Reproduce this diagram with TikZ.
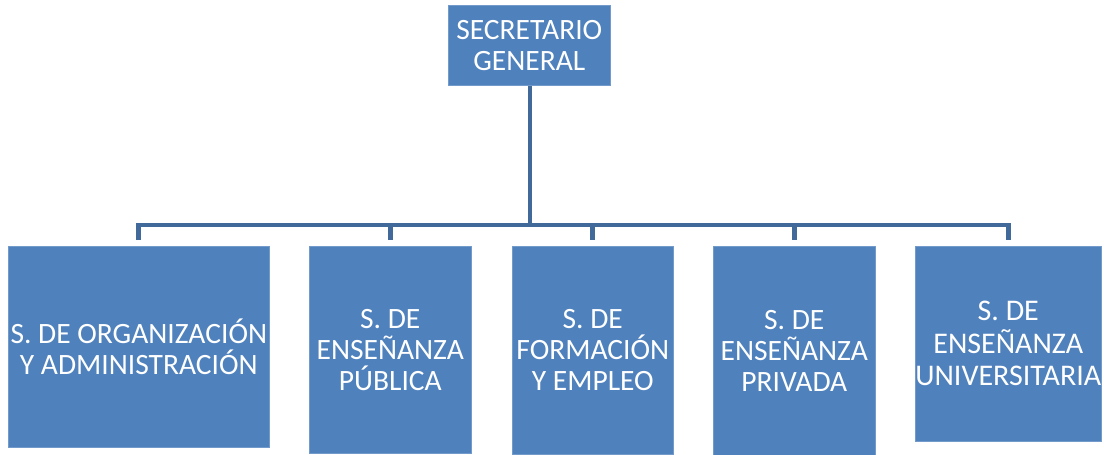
\documentclass[tikz,border=0pt]{standalone}
\usepackage{fontspec}
\setmainfont{Carlito}
\definecolor{boxblue}{HTML}{4F81BD}
\definecolor{lineblue}{HTML}{41699A}
\begin{document}
\begin{tikzpicture}[x=1pt,y=-1pt,
  orgbox/.style={rectangle, fill=boxblue, draw=boxblue!80!white, line width=0.6pt, inner sep=0pt, text=white, align=center, anchor=north west,
    font=\fontsize{29.5}{31}\selectfont},
  conn/.style={draw=lineblue, line width=4.8pt, line join=miter}]
\useasboundingbox (0,0) rectangle (1104,455);
\node[orgbox, minimum width=162pt, minimum height=80pt] (top) at (448,5) {SECRETARIO\\GENERAL};
\node[orgbox, minimum width=261pt, minimum height=201pt] (b1) at (8,246) {S. DE ORGANIZACIÓN\\Y ADMINISTRACIÓN};
\node[orgbox, minimum width=162pt, minimum height=207pt] (b2) at (309,246) {S. DE\\ENSEÑANZA\\PÚBLICA};
\node[orgbox, minimum width=161pt, minimum height=208pt] (b3) at (512,246) {S. DE\\FORMACIÓN\\Y EMPLEO};
\node[orgbox, minimum width=162pt, minimum height=209pt] (b4) at (713,246) {S. DE\\ENSEÑANZA\\PRIVADA};
\node[orgbox, minimum width=184pt, minimum height=195pt, font=\fontsize{30}{32.5}\selectfont] (b5) at (915,246) {S. DE\\ENSEÑANZA\\UNIVERSITARIA};
\coordinate (bar) at (530,225);
\draw[conn] (top.south -| bar) -- (bar);
\draw[conn, shorten <=6pt, shorten >=6pt] (b1.north) |- (bar) -| (b5.north);
\draw[conn, shorten >=6pt] (b2.north |- bar) -- (b2.north);
\draw[conn, shorten >=6pt] (b3.north |- bar) -- (b3.north);
\draw[conn, shorten >=6pt] (b4.north |- bar) -- (b4.north);
\end{tikzpicture}
\end{document}
